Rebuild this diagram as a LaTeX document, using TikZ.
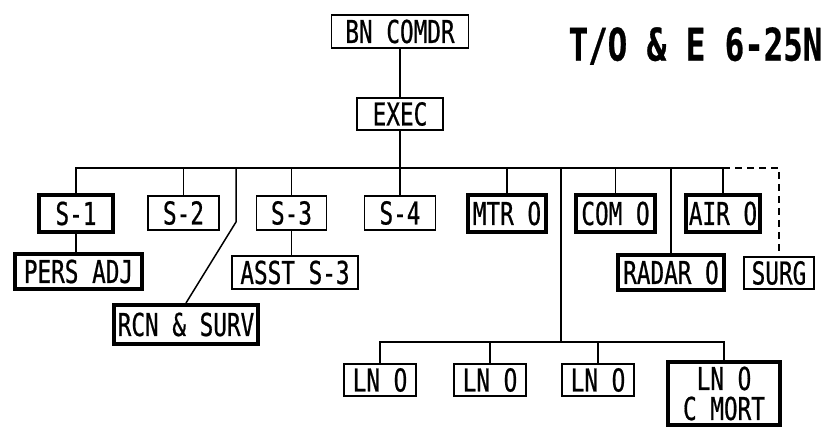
\documentclass[tikz,border=0pt]{standalone}
\usepackage{fontspec}
\setmainfont{DejaVu Sans Mono}[FakeStretch=0.72,FakeBold=0.6]

\begin{document}
\begin{tikzpicture}[x=1pt,y=-1pt]
    \tikzset{
        post/.style={
            draw,
            line width=1.5pt,
            inner sep=0pt,
            align=center,
            font=\fontsize{31.5}{30}\selectfont
        }
    }
    \tikzset{
        keypost/.style={
            post,
            line width=4pt
        }
    }
    \tikzset{
        link/.style={
            line width=1.5pt
        }
    }
    \tikzset{
        auxlink/.style={
            link,
            dash pattern=on 7pt off 5pt
        }
    }

    \useasboundingbox (0,0) rectangle (828,427);

    \node[post, minimum width=137pt, minimum height=33pt] (cmdr) at (400,31.5) {BN COMDR};
    \node[post, minimum width=86pt, minimum height=32pt] (exec) at (400,114) {EXEC};
    \node[font=\fontsize{45}{45}\selectfont\bfseries, inner sep=0pt] (title) at (695.5,46) {T/O \& E 6-25N};

    \node[keypost, minimum width=74pt, minimum height=37pt] (s1) at (76,213.5) {S-1};
    \node[post, minimum width=71pt, minimum height=34pt] (s2) at (183.5,213) {S-2};
    \node[post, minimum width=70pt, minimum height=34pt] (s3) at (291.5,213) {S-3};
    \node[post, minimum width=71pt, minimum height=34pt] (s4) at (400,213) {S-4};
    \node[keypost, minimum width=78pt, minimum height=37pt] (mtr) at (507,213.5) {MTR O};
    \node[keypost, minimum width=79pt, minimum height=37pt] (com) at (615.5,213.5) {COM O};
    \node[keypost, minimum width=74pt, minimum height=37pt] (air) at (723,213.5) {AIR O};

    \node[keypost, minimum width=127pt, minimum height=35pt] (pers) at (78.5,271.5) {PERS ADJ};
    \node[post, minimum width=126pt, minimum height=33pt] (asst) at (295,272.5) {ASST S-3};
    \node[keypost, minimum width=144pt, minimum height=39pt] (rcn) at (186,324.5) {RCN \& SURV};
    \node[keypost, minimum width=106pt, minimum height=35pt] (radar) at (671,272.5) {RADAR O};
    \node[post, minimum width=70pt, minimum height=32pt] (surg) at (779,273) {SURG};

    \node[post, minimum width=72pt, minimum height=32pt] (ln1) at (380,380) {LN O};
    \node[post, minimum width=72pt, minimum height=32pt] (ln2) at (490,380) {LN O};
    \node[post, minimum width=72pt, minimum height=32pt] (ln3) at (598,380) {LN O};
    \node[keypost, minimum width=112pt, minimum height=63pt] (ln4) at (724,393.5) {LN O\\C MORT};

    \coordinate (bar) at (400,168);
    \coordinate (rcnbend) at (236,222);
    \coordinate (lnbar) at (561,342);

    \draw[link] (cmdr.south) -- (exec.north);
    \draw[link] (exec.south) -- (s4.north);
    \draw[link] (s1.north) |- (bar) -| (air.north);
    \foreach \n in {s2,s3,mtr,com,radar}
        \draw[link] (\n.north) -- (\n.north |- bar);
    \draw[link] (s1.south) -- (s1.south |- pers.north);
    \draw[link] (s3.south) -- (s3.south |- asst.north);
    \draw[link] (rcn.north) -- (rcnbend) -- (rcnbend |- bar);
    \draw[link] (lnbar |- bar) -- (lnbar);
    \draw[link] (ln1.north) |- (lnbar) -| (ln4.north);
    \foreach \n in {ln2,ln3}
        \draw[link] (\n.north) -- (\n.north |- lnbar);
    \draw[auxlink] (air.north |- bar) -| (surg.north);
\end{tikzpicture}
\end{document}
